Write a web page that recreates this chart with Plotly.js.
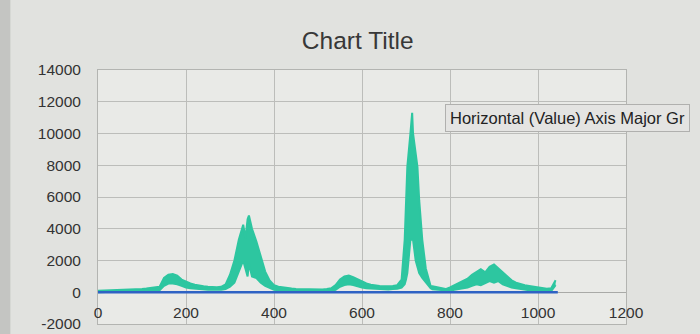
<!DOCTYPE html>
<html>
<head>
<meta charset="utf-8">
<script src="https://cdn.plot.ly/plotly-3.0.1.min.js"></script>
<style>html,body{margin:0;padding:0;background:#e1e2df;}#chart{width:700px;height:334px;}</style>
</head>
<body>
<div id="chart"></div>
<script>
// Row positions of the readings
const tealX = [
  0, 10, 20, 30, 40, 50, 60, 70, 80, 90,
  100, 110, 120, 130, 140, 150, 160, 170, 180, 190,
  200, 210, 220, 230, 240, 250, 260, 270, 280, 290,
  300, 310, 320, 330, 335, 340, 343, 347, 350, 360, 370, 380, 390,
  400, 410, 420, 430, 440, 450, 460, 470, 480, 490,
  500, 510, 520, 530, 540, 550, 560, 570, 580, 590,
  600, 610, 620, 630, 640, 650, 660, 670, 680,
  690, 697, 700, 703, 710, 714, 716, 722, 726, 730, 737, 745, 756,
  760, 770, 780, 790,
  800, 810, 820, 830, 840, 850, 860, 870, 880, 890,
  900, 910, 920, 930, 940, 950, 960, 970, 980, 990,
  1000, 1010, 1020, 1030, 1040
];
// Teal series: upper edge of the noisy band
const tealHi = [
  90, 100, 110, 110, 110, 130, 140, 150, 160, 170,
  200, 230, 260, 290, 350, 900, 1100, 1150, 1050, 800,
  650, 550, 480, 420, 380, 350, 330, 320, 340, 500,
  1100, 2000, 3300, 4250, 3400, 4600, 4830, 4200, 4000, 3200, 2200, 1300, 750,
  450, 350, 300, 260, 230, 200, 190, 180, 170, 160,
  160, 170, 200, 250, 450, 800, 1000, 1050, 950, 800,
  650, 550, 480, 430, 400, 380, 370, 400, 450,
  800, 3300, 6000, 7900, 10000, 11300, 10000, 8500, 7900, 5800, 3300, 1500, 400,
  380, 330, 250, 200,
  300, 450, 600, 750, 850, 1100, 1300, 1450, 1250, 1600,
  1750, 1500, 1250, 1050, 750, 600, 500, 450, 400, 350,
  300, 250, 220, 250, 750
];
// Teal series: lower edge of the noisy band
const tealLo = [
  0, 10, 10, 20, 20, 30, 30, 40, 40, 50,
  60, 70, 80, 90, 120, 400, 550, 550, 500, 400,
  300, 250, 220, 200, 180, 160, 150, 150, 160, 200,
  350, 600, 1300, 2000, 1500, 1000, 1800, 1200, 1000, 900, 600, 400, 250,
  150, 120, 100, 90, 80, 70, 60, 60, 60, 50,
  50, 60, 70, 80, 150, 350, 450, 500, 450, 350,
  300, 250, 230, 200, 200, 180, 180, 200, 220,
  300, 500, 800, 1200, 3300, 3300, 3300, 2000, 1500, 1200, 900, 600, 250,
  180, 150, 120, 100,
  100, 150, 200, 250, 300, 400, 500, 450, 600, 700,
  600, 700, 500, 400, 300, 250, 200, 150, 120, 100,
  80, 60, 50, 80, 450
];
// Blue series readings (flat near zero)
const blueX = [0, 100, 200, 300, 400, 500, 600, 700, 800, 900, 1000, 1045];
const blueY = [0, 0, 0, 0, 0, 0, 0, 0, 0, 0, 0, 0];

const xTicks = [0, 200, 400, 600, 800, 1000, 1200];
const yTicks = [-2000, 0, 2000, 4000, 6000, 8000, 10000, 12000, 14000];

const font = 'Liberation Sans, Arial, sans-serif';
const grid = '#bcbdba';
const teal = '#2dc6a0';
const traces = [
  {x: tealX, y: tealHi, type: 'scatter', mode: 'lines',
   line: {color: teal, width: 2}, hoverinfo: 'skip'},
  {x: tealX, y: tealLo, type: 'scatter', mode: 'lines', fill: 'tonexty',
   fillcolor: teal, line: {color: teal, width: 2}, hoverinfo: 'skip'},
  {x: blueX, y: blueY, type: 'scatter', mode: 'lines',
   line: {color: '#2f62c4', width: 2.4}, hoverinfo: 'skip'},
  // invisible trace on the frame axis so the top/bottom border axis is drawn
  {x: [0], y: [0], xaxis: 'x2', type: 'scatter', mode: 'markers',
   marker: {opacity: 0}, hoverinfo: 'skip'}
];
const layout = {
  width: 700, height: 334,
  margin: {l: 98, r: 74, t: 70, b: 10},
  paper_bgcolor: '#e1e2df',
  plot_bgcolor: '#e9eae7',
  showlegend: false,
  font: {family: font, color: '#333333', size: 15.5},
  title: {text: 'Chart Title', x: 0.511, xref: 'container', xanchor: 'center',
          y: 0.88, yref: 'container', yanchor: 'middle',
          font: {family: font, size: 24.5, color: '#383838'}},
  xaxis: {range: [0, 1200], tickvals: xTicks, ticktext: xTicks.map(String),
          anchor: 'free', position: 0.125,
          showgrid: true, gridcolor: grid, gridwidth: 1,
          zeroline: false, showline: false, ticks: '',
          ticklabelstandoff: 9,
          tickfont: {family: font, size: 15.5, color: '#333333'}},
  xaxis2: {range: [0, 1200], overlaying: 'x', anchor: 'y', side: 'bottom',
           showgrid: false, zeroline: false, showticklabels: false, ticks: '',
           showline: true, mirror: true, linecolor: '#b3b4b1', linewidth: 1},
  yaxis: {range: [-2000, 14000], tickvals: yTicks, ticktext: yTicks.map(String),
          showgrid: true, gridcolor: grid, gridwidth: 1,
          zeroline: true, zerolinecolor: '#a9aaa7', zerolinewidth: 1,
          showline: true, mirror: true, linecolor: '#b3b4b1', linewidth: 1,
          ticks: '', ticklabelstandoff: 13,
          tickfont: {family: font, size: 15.5, color: '#333333'}},
  shapes: [{type: 'rect', xref: 'paper', yref: 'paper', x0: -0.186, x1: -0.166,
            y0: -0.05, y1: 1.3, fillcolor: '#c4c5c2', line: {width: 0}, layer: 'below'}],
  annotations: [{
    text: 'Horizontal (Value) Axis Major Gr', xref: 'paper', yref: 'paper',
    x: 0.657, y: 0.81, xanchor: 'left', yanchor: 'middle', showarrow: false,
    font: {family: font, size: 16.5, color: '#222222'},
    bgcolor: '#e4e4e2', bordercolor: '#b0b0ae', borderwidth: 1, borderpad: 4
  }]
};
Plotly.newPlot('chart', traces, layout, {staticPlot: true, displayModeBar: false});
</script>
</body>
</html>
